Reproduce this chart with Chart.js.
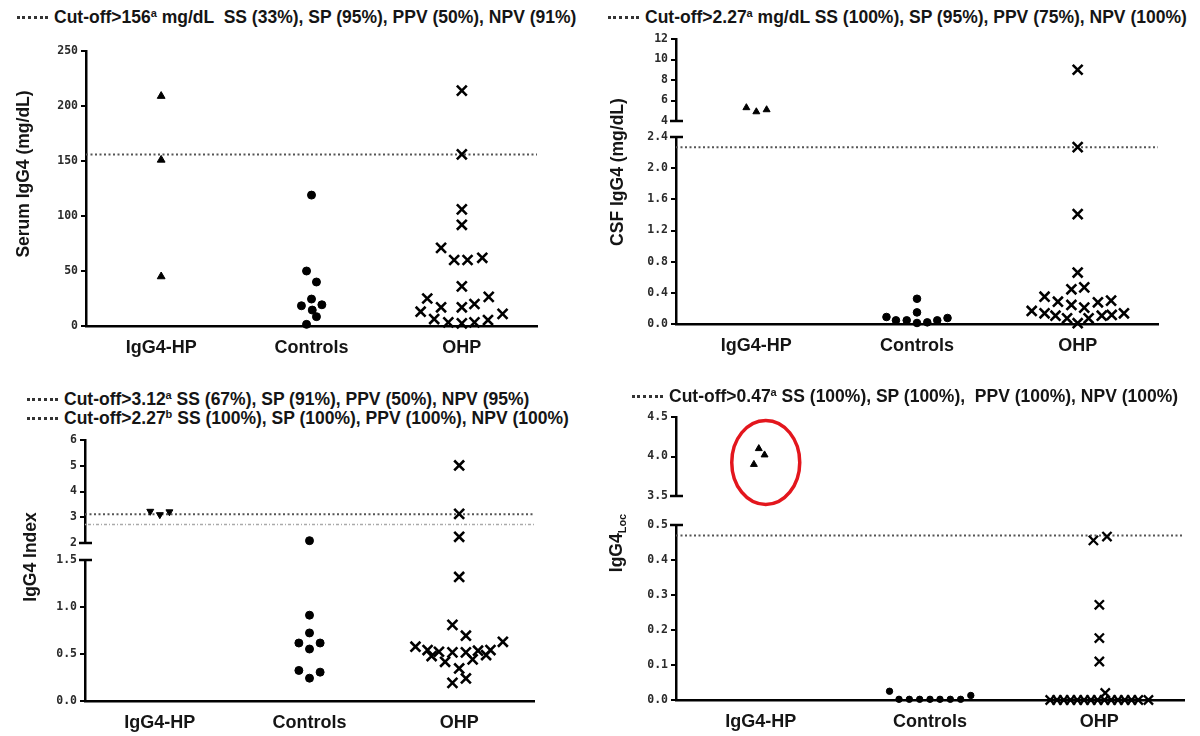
<!DOCTYPE html>
<html><head><meta charset="utf-8">
<script src="https://cdn.jsdelivr.net/npm/chart.js@4.4.1/dist/chart.umd.min.js"></script>
<style>
html,body{margin:0;padding:0;background:#fff;}
body{width:1200px;height:736px;position:relative;overflow:hidden;font-family:'Liberation Sans',Arial,sans-serif;}
canvas{position:absolute;}
.hdr{position:absolute;font-weight:bold;font-size:17.5px;line-height:20px;white-space:pre;color:#151515;}
.hdr sup{font-size:11px;vertical-align:6px;line-height:0;}
.lead{display:inline-block;width:31px;border-top:3px dotted #333;vertical-align:middle;margin-right:6px;position:relative;top:-1px;}
.yt{position:absolute;font-weight:bold;font-size:17.5px;white-space:nowrap;color:#151515;transform:translate(-50%,-50%) rotate(-90deg);}
.yt sub{font-size:11px;}
</style></head><body>
<script>
// ---------- data ----------
const categories = ['IgG4-HP', 'Controls', 'OHP'];

// Panel A: Serum IgG4 (mg/dL)
const serumHP = [209, 151, 45];
const serumHPx = [0, 0, 0];
const serumCtrl = [119, 50, 40, 24.5, 18.4, 19.3, 14.5, 8.5, 1.5];
const serumCtrlx = [0, -0.033, 0.033, 0, -0.067, 0.069, 0.005, 0.033, -0.033];
const serumOHP = [214, 156, 106, 92, 71, 60, 60, 62, 36, 25, 13, 17, 17, 20, 26.5, 11, 6.3, 3.3, 2.4, 3.3, 5.4];
const serumOHPx = [0, 0, 0, 0, -0.138, -0.051, 0.038, 0.136, 0, -0.23, -0.274, -0.138, 0, 0.084, 0.179, 0.271, -0.184, -0.09, 0, 0.084, 0.174];
const serumCut = 156;
const serumTicks = [0, 50, 100, 150, 200, 250];

// Panel B: CSF IgG4 (mg/dL)
const csfHP = [5.3, 4.9, 5.1];
const csfHPx = [-0.062, 0, 0.064];
const csfCtrl = [0.324, 0.149, 0.09, 0.047, 0.047, 0.013, 0.021, 0.047, 0.077];
const csfCtrlx = [0, 0, -0.19, -0.131, -0.064, 0, 0.064, 0.126, 0.19];
const csfOHP = [9.0, 2.27, 1.41, 0.66, 0.445, 0.47, 0.35, 0.286, 0.244, 0.21, 0.278, 0.3, 0.167, 0.137, 0.107, 0.073, 0.01, 0.073, 0.107, 0.116, 0.137];
const csfOHPx = [0, 0, 0, 0, -0.039, 0.041, -0.206, -0.123, -0.039, 0.041, 0.126, 0.208, -0.286, -0.206, -0.138, -0.066, 0, 0.068, 0.15, 0.212, 0.288];
const csfCut = 2.27;
const csfTicksUpper = [4, 6, 8, 10, 12];
const csfTicksLower = [0, 0.4, 0.8, 1.2, 1.6, 2.0, 2.4];

// Panel C: IgG4 Index
const idxHP = [3.23, 3.10, 3.21];
const idxHPx = [-0.064, 0, 0.064];
const idxCtrl = [2.09, 0.913, 0.724, 0.617, 0.617, 0.553, 0.325, 0.307, 0.243];
const idxCtrlx = [0, 0, 0, -0.071, 0.071, 0, -0.071, 0.071, 0];
const idxOHP = [5.01, 3.13, 2.24, 1.32, 0.81, 0.695, 0.63, 0.578, 0.542, 0.524, 0.517, 0.517, 0.535, 0.542, 0.478, 0.417, 0.443, 0.489, 0.346, 0.193, 0.24];
const idxOHPx = [0, 0, 0, 0, -0.045, 0.045, 0.292, -0.292, -0.211, -0.135, -0.045, 0.045, 0.126, 0.209, -0.184, -0.094, 0.09, 0.18, 0, -0.045, 0.045];
const idxCutA = 3.12;
const idxCutB = 2.72;   // as plotted in the figure
const idxTicksUpper = [2, 3, 4, 5, 6];
const idxTicksLower = [0, 0.5, 1.0, 1.5];

// Panel D: IgG4 Loc
const locHP = [4.10, 4.02, 3.90];
const locHPx = [-0.011, 0.023, -0.04];
const locCtrl = [0.025, 0.002, 0.002, 0.002, 0.002, 0.002, 0.002, 0.002, 0.013];
const locCtrlx = [-0.239, -0.183, -0.122, -0.061, 0, 0.059, 0.12, 0.181, 0.241];
const locOHP = [0.456, 0.467, 0.272, 0.177, 0.110, 0.02, 0, 0, 0, 0, 0, 0, 0, 0, 0, 0, 0, 0, 0, 0, 0];
const locOHPx = [-0.035, 0.045, 0, 0, 0, 0.035, -0.29, -0.25, -0.21, -0.17, -0.13, -0.09, -0.05, -0.01, 0.03, 0.07, 0.11, 0.15, 0.19, 0.23, 0.29];
const locCut = 0.47;
const locTicksUpper = [3.5, 4.0, 4.5];
const locTicksLower = [0, 0.1, 0.2, 0.3, 0.4, 0.5];

// ---------- drawing ----------
const L = 60, R = 14, T = 12;
const FONT = "'Liberation Sans', Arial, sans-serif";

function segment(o) {
  const B = o.showX ? 44 : 14;
  const w = o.right - o.axisX + L + R, h = o.bottom - o.top + T + B;
  const cv = document.createElement('canvas');
  cv.width = w; cv.height = h;
  cv.style.left = (o.axisX - L) + 'px';
  cv.style.top = (o.top - T) + 'px';
  cv.style.width = w + 'px'; cv.style.height = h + 'px';
  document.body.appendChild(cv);
  const inRange = v => v >= o.min - 1e-9 && v <= o.max + 1e-9;
  const datasets = [];
  (o.cutoffs || []).forEach(c => datasets.push({
    type: 'line', data: [{x: -0.5, y: c.value}, {x: 2.5, y: c.value}],
    borderColor: c.color, borderWidth: c.width, borderDash: c.dash,
    pointRadius: 0, fill: false, order: 10, clip: false
  }));
  o.groups.forEach(g => datasets.push({
    type: 'scatter',
    data: g.values.map((v, i) => ({x: g.cat + g.offsets[i], y: v})).filter(p => inRange(p.y)),
    pointStyle: g.style, pointRadius: g.r, pointRotation: g.rot || 0,
    backgroundColor: '#000', borderColor: '#000', borderWidth: g.bw || 1,
    order: 0, clip: false
  }));
  const deco = {
    id: 'deco',
    afterDraw(chart) {
      const ctx = chart.ctx, ys = chart.scales.y, xs = chart.scales.x, ax = chart.chartArea.left;
      ctx.save();
      ctx.strokeStyle = '#000'; ctx.lineWidth = 2.5;
      (o.caps || []).forEach(v => {
        const py = ys.getPixelForValue(v);
        ctx.beginPath(); ctx.moveTo(ax - 6, py); ctx.lineTo(ax + 7, py); ctx.stroke();
      });
      if (o.ellipse) {
        const e = o.ellipse;
        ctx.strokeStyle = '#e3161d'; ctx.lineWidth = 3.5;
        ctx.beginPath();
        ctx.ellipse(xs.getPixelForValue(e.x), ys.getPixelForValue(e.y), e.rx, e.ry, 0, 0, Math.PI * 2);
        ctx.stroke();
      }
      ctx.restore();
    }
  };
  new Chart(cv, {
    type: 'scatter',
    data: {datasets},
    plugins: [deco],
    options: {
      responsive: false, animation: false, devicePixelRatio: 1, events: [],
      layout: {padding: {left: 0, right: R, top: T, bottom: o.showX ? 0 : B}},
      plugins: {legend: {display: false}, tooltip: {enabled: false}, title: {display: false}},
      scales: {
        x: {
          type: 'linear', min: -0.5, max: 2.5, display: !!o.showX,
          afterFit: s => { if (o.showX) s.height = B; else s.height = 0; },
          afterBuildTicks: s => { s.ticks = categories.map((c, i) => ({value: i})); },
          ticks: {
            callback: v => categories[v] || '', padding: 11, color: '#151515',
            font: {family: FONT, weight: 'bold', size: 18}, maxRotation: 0, autoSkip: false
          },
          grid: {display: false, drawTicks: false},
          border: {display: true, width: 2.5, color: '#000'}
        },
        y: {
          type: 'linear', min: o.min, max: o.max,
          afterFit: s => { s.width = L; },
          afterBuildTicks: s => { s.ticks = o.ticks.map(v => ({value: v})); },
          ticks: {
            callback: v => o.fmt(v), padding: 3, color: '#2a2a2a',
            font: {family: "'DejaVu Sans Mono', monospace", weight: 'bold', size: 11.5}
          },
          grid: {drawOnChartArea: false, drawTicks: true, tickLength: 5, lineWidth: 2, color: '#000'},
          border: {display: true, width: 2.5, color: '#000'}
        }
      }
    }
  });
}

const intFmt = v => String(Math.round(v));
const f1 = v => v.toFixed(1);
const dotted = {color: '#555', width: 2, dash: [2, 2.5]};

// Panel A
segment({axisX: 86, right: 537, top: 51, bottom: 326, min: 0, max: 250, ticks: serumTicks, fmt: intFmt, showX: true,
  cutoffs: [Object.assign({value: serumCut}, dotted)],
  groups: [
    {cat: 0, values: serumHP, offsets: serumHPx, style: 'triangle', r: 4.5},
    {cat: 1, values: serumCtrl, offsets: serumCtrlx, style: 'circle', r: 4},
    {cat: 2, values: serumOHP, offsets: serumOHPx, style: 'crossRot', r: 7, bw: 2.6}
  ]});

// Panel B
const csfGroups = [
  {cat: 0, values: csfHP, offsets: csfHPx, style: 'triangle', r: 4},
  {cat: 1, values: csfCtrl, offsets: csfCtrlx, style: 'circle', r: 3.8},
  {cat: 2, values: csfOHP, offsets: csfOHPx, style: 'crossRot', r: 7, bw: 2.6}
];
segment({axisX: 676, right: 1158, top: 39, bottom: 121, min: 4, max: 12, ticks: csfTicksUpper, fmt: intFmt, showX: false,
  caps: [4], groups: csfGroups});
segment({axisX: 676, right: 1158, top: 137, bottom: 324, min: 0, max: 2.4, ticks: csfTicksLower, fmt: f1, showX: true,
  caps: [2.4], cutoffs: [Object.assign({value: csfCut}, dotted)], groups: csfGroups});

// Panel C
const idxGroups = [
  {cat: 0, values: idxHP, offsets: idxHPx, style: 'triangle', r: 4, rot: 180},
  {cat: 1, values: idxCtrl, offsets: idxCtrlx, style: 'circle', r: 4},
  {cat: 2, values: idxOHP, offsets: idxOHPx, style: 'crossRot', r: 7, bw: 2.6}
];
segment({axisX: 85, right: 534, top: 440, bottom: 543, min: 2, max: 6, ticks: idxTicksUpper, fmt: intFmt, showX: false,
  caps: [2],
  cutoffs: [Object.assign({value: idxCutA}, dotted), {value: idxCutB, color: '#aaa', width: 1.5, dash: [1, 2, 3, 2]}],
  groups: idxGroups});
segment({axisX: 85, right: 534, top: 560, bottom: 701, min: 0, max: 1.5, ticks: idxTicksLower, fmt: f1, showX: true,
  caps: [1.5], groups: idxGroups});

// Panel D
const locGroups = [
  {cat: 0, values: locHP, offsets: locHPx, style: 'triangle', r: 4},
  {cat: 1, values: locCtrl, offsets: locCtrlx, style: 'circle', r: 3.2},
  {cat: 2, values: locOHP, offsets: locOHPx, style: 'crossRot', r: 6.5, bw: 2.3}
];
segment({axisX: 676, right: 1184, top: 417, bottom: 496, min: 3.5, max: 4.5, ticks: locTicksUpper, fmt: f1, showX: false,
  caps: [3.5], ellipse: {x: 0.03, y: 3.925, rx: 34, ry: 42}, groups: locGroups});
segment({axisX: 676, right: 1184, top: 525, bottom: 700, min: 0, max: 0.5, ticks: locTicksLower, fmt: f1, showX: true,
  caps: [0.5], cutoffs: [Object.assign({value: locCut}, dotted)], groups: locGroups});

// ---------- text ----------
function header(x, yc, html) {
  const d = document.createElement('div');
  d.className = 'hdr';
  d.style.left = x + 'px'; d.style.top = (yc - 10) + 'px';
  d.innerHTML = '<span class="lead"></span>' + html;
  document.body.appendChild(d);
}
function ytitle(x, y, html) {
  const d = document.createElement('div');
  d.className = 'yt';
  d.style.left = x + 'px'; d.style.top = y + 'px';
  d.innerHTML = html;
  document.body.appendChild(d);
}
header(17, 17, 'Cut-off&gt;156<sup>a</sup> mg/dL  SS (33%), SP (95%), PPV (50%), NPV (91%)');
header(608, 17, 'Cut-off&gt;2.27<sup>a</sup> mg/dL SS (100%), SP (95%), PPV (75%), NPV (100%)');
header(27, 399, 'Cut-off&gt;3.12<sup>a</sup> SS (67%), SP (91%), PPV (50%), NPV (95%)');
header(27, 418, 'Cut-off&gt;2.27<sup>b</sup> SS (100%), SP (100%), PPV (100%), NPV (100%)');
header(632, 396, 'Cut-off&gt;0.47<sup>a</sup> SS (100%), SP (100%),  PPV (100%), NPV (100%)');
ytitle(23, 174, 'Serum IgG4 (mg/dL)');
ytitle(617, 172, 'CSF IgG4 (mg/dL)');
ytitle(30, 557, 'IgG4 Index');
ytitle(617, 543, 'IgG4<sub>Loc</sub>');
</script>
</body></html>
